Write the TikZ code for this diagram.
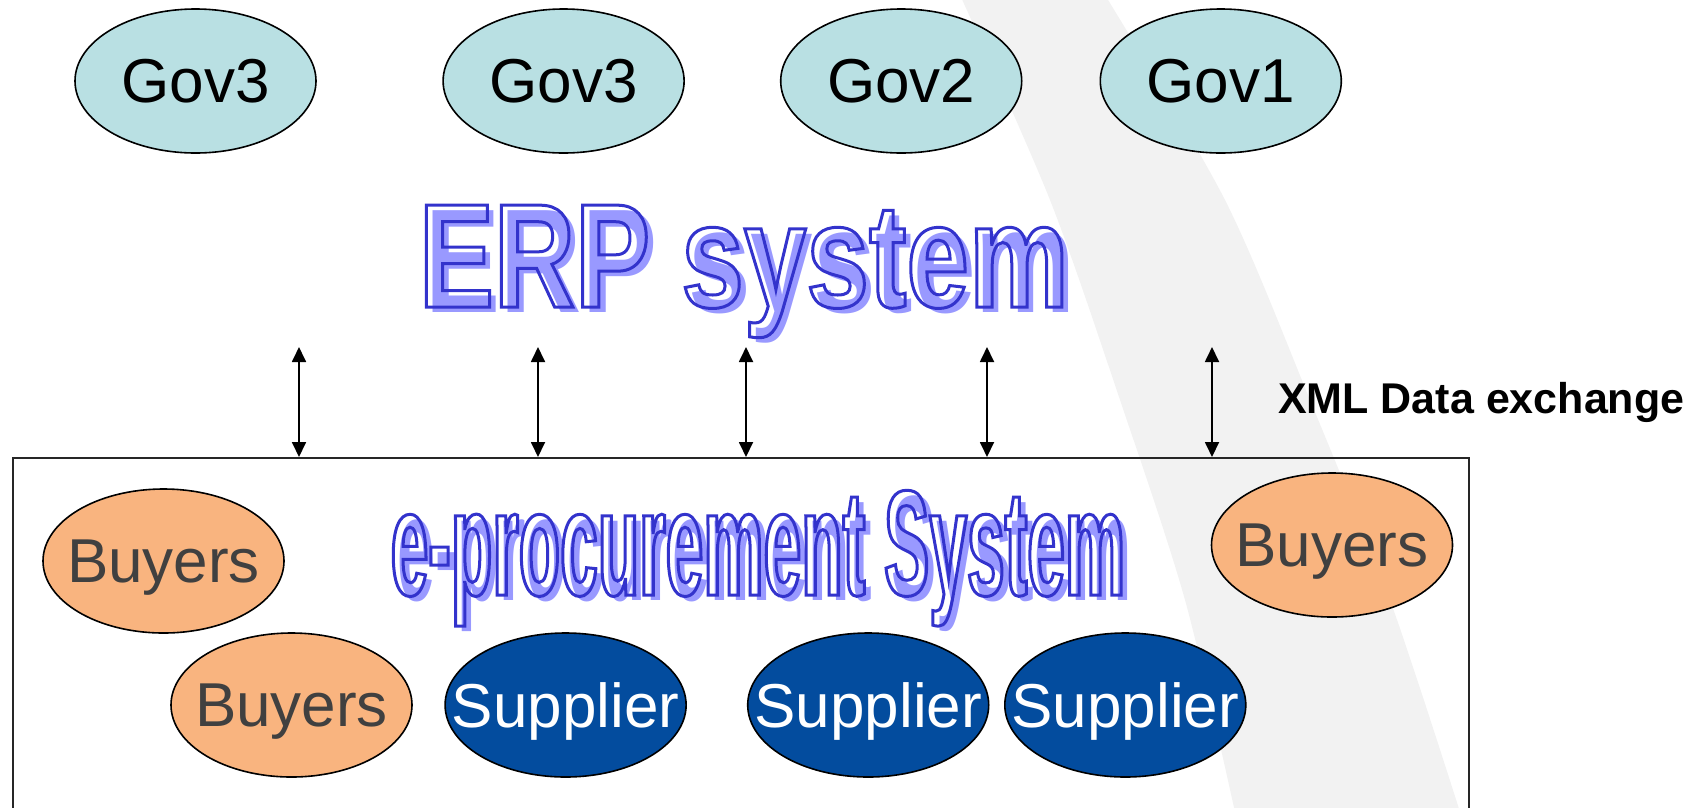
\documentclass[tikz,border=0pt]{standalone}
\usepackage{fontspec}
\setmainfont{Liberation Sans}
\newfontfamily\erpfont[FakeStretch=0.76]{Liberation Sans}
\newfontfamily\eprocfont[FakeStretch=0.452]{Liberation Sans}
\usetikzlibrary{arrows.meta, shapes.geometric, positioning}

\definecolor{govfill}{HTML}{B9E0E3}
\definecolor{buyfill}{HTML}{F9B47F}
\definecolor{supfill}{HTML}{034C9E}
\definecolor{buytext}{HTML}{404040}
\definecolor{wordshade}{HTML}{9999FF}
\definecolor{wordline}{HTML}{3333CC}
\definecolor{arcgray}{HTML}{F2F2F2}

% outlined word art: #1 font, #2 size, #3 text
\newcommand{\wordline}[3]{{#1\fontsize{#2}{#2}\selectfont\bfseries\color{wordline}%
  \special{pdf:literal direct q 1 Tr 3 w}#3\special{pdf:literal direct Q}}}
\newcommand{\wordshade}[3]{{#1\fontsize{#2}{#2}\selectfont\bfseries\color{wordshade}#3}}
% keeps the ellipse size free of the text width
\newcommand{\inbubble}[1]{\makebox[0pt]{#1}}

\tikzset{
   bubble/.style={
     ellipse, draw=black, line width=1.6pt,
     minimum width=241pt, minimum height=144pt, inner sep=0pt,
     text depth=0pt, font=\fontsize{62}{70}\selectfont
   },
   gov/.style={bubble, fill=govfill},
   buyer/.style={bubble, fill=buyfill, text=buytext},
   supplier/.style={bubble, fill=supfill, text=white},
   xmlline/.style={{Triangle[length=15pt,width=14pt]}-{Triangle[length=15pt,width=14pt]}, line width=1.8pt},
   systembox/.style={draw=black!85, line width=1.8pt, inner sep=0pt},
   wordart/.style={inner sep=0pt, anchor=base}
}

\begin{document}
\begin{tikzpicture}[x=1pt, y=-1pt, node distance=0pt]
      \useasboundingbox (0,0) rectangle (1693,807);
      \clip (0,0) rectangle (1693,807);

      % background arc
      \fill[arcgray] plot[smooth] coordinates {(960,-5) (1050,200) (1120,400) (1185,600) (1235,812)}
         -- plot[smooth] coordinates {(1460,812) (1390,600) (1310,400) (1225,200) (1105,-5)} -- cycle;

      \node[gov](gov3a) at (195.5,81) {\inbubble{Gov3}};
      \node[gov](gov3b) [right = 125.5pt of gov3a] {\inbubble{Gov3}};
      \node[gov](gov2) [right = 95pt of gov3b] {\inbubble{Gov2}};
      \node[gov](gov1) [right = 77pt of gov2] {\inbubble{Gov1}};

      \node[wordart] (erpshade) at (751,312) {\wordshade{\erpfont}{148}{ERP system}};
      \node[wordart] (erp) at (744,307) {\wordline{\erpfont}{148}{ERP system}};

      \node[systembox, anchor=north west, minimum width=1456pt, minimum height=400pt] (eproc) at (12,457) {};

      \node[anchor=base west, inner sep=0pt, font=\bfseries\fontsize{43}{50}\selectfont] (xmltext) at (1278,413) {XML Data exchange};

      \foreach \ax [count=\i] in {299,538,746,987,1212} {
         \coordinate (xml\i) at (\ax,347);
         \draw[xmlline] (xml\i) -- (xml\i |- eproc.north);
      }

      \node[wordart] (eprocshade) at (765,600) {\wordshade{\eprocfont}{150}{e-procurement System}};
      \node[wordart] (eproctitle) at (758,595) {\wordline{\eprocfont}{150}{e-procurement System}};

      \node[buyer](buyers1) at (163.5,561) {\inbubble{Buyers}};
      \node[buyer](buyers3) at (1332,545) {\inbubble{Buyers}};

      \node[buyer](buyers2) at (291.5,705) {\inbubble{Buyers}};
      \node[supplier](supplier1) [right = 31.5pt of buyers2] {\inbubble{Supplier}};
      \node[supplier](supplier2) [right = 60pt of supplier1] {\inbubble{Supplier}};
      \node[supplier](supplier3) [right = 14.5pt of supplier2] {\inbubble{Supplier}};
\end{tikzpicture}
\end{document}
